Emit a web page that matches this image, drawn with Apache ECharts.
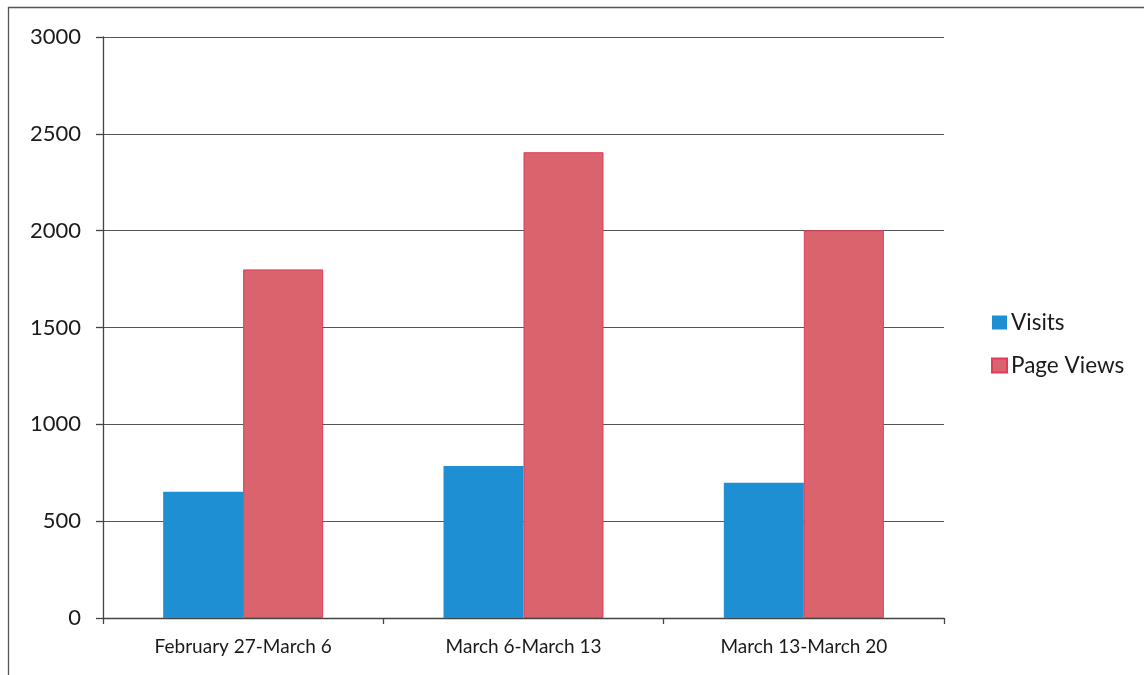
<!DOCTYPE html>
<html>
<head>
<meta charset="utf-8">
<script src="https://cdn.jsdelivr.net/npm/echarts@6/dist/echarts.min.js"></script>
<style>
  html, body { margin: 0; padding: 0; background: #fff; }
  #chart { width: 1144px; height: 675px; }
</style>
</head>
<body>
<div id="chart"></div>
<script>
// Weekly site traffic
const weeks = ['February 27-March 6', 'March 6-March 13', 'March 13-March 20'];
const visits = [652, 785, 698];
const pageViews = [1800, 2405, 2002];
const yTicks = { min: 0, max: 3000, step: 500 };

const chart = echarts.init(document.getElementById('chart'));
const font = 'Lato, "Open Sans", sans-serif';

chart.setOption({
  backgroundColor: '#fff',
  animation: false,
  graphic: [{
    type: 'rect',
    shape: { x: 8.5, y: 7.5, width: 1200, height: 700 },
    style: { fill: 'none', stroke: '#555', lineWidth: 1.3 },
    silent: true
  }],
  grid: { left: 103, right: 200, top: 37, bottom: 57 },
  legend: {
    orient: 'vertical',
    left: 986,
    top: 306,
    itemWidth: 15,
    itemHeight: 14,
    itemGap: 20,
    icon: 'rect',
    textStyle: { fontFamily: font, fontSize: 22.5, color: '#1a1a1a', padding: [0, 0, 0, -1] },
    data: ['Visits', 'Page Views']
  },
  xAxis: {
    type: 'category',
    data: weeks,
    axisLine: { lineStyle: { color: '#444', width: 1.3 } },
    axisTick: { show: true, length: 6, lineStyle: { color: '#444', width: 1.3 } },
    axisLabel: { fontFamily: font, fontSize: 19, color: '#1a1a1a', margin: 19 }
  },
  yAxis: {
    type: 'value',
    min: yTicks.min,
    max: yTicks.max,
    interval: yTicks.step,
    axisLine: { show: true, lineStyle: { color: '#444', width: 1.3 } },
    axisTick: { show: true, inside: false, length: 7, lineStyle: { color: '#444', width: 1.3 } },
    splitLine: { lineStyle: { color: '#555', width: 1.2 } },
    axisLabel: {
      fontFamily: font, fontSize: 22, color: '#1a1a1a', margin: 22,
      formatter: v => String(v)
    }
  },
  series: [
    {
      name: 'Visits',
      type: 'bar',
      data: visits,
      barWidth: 80,
      barGap: '0%',
      itemStyle: { color: '#1d8fd2' }
    },
    {
      name: 'Page Views',
      type: 'bar',
      data: pageViews,
      barWidth: 80,
      itemStyle: { color: '#d9646d', borderColor: '#e23a5a', borderWidth: 1 }
    }
  ]
});
</script>
</body>
</html>
